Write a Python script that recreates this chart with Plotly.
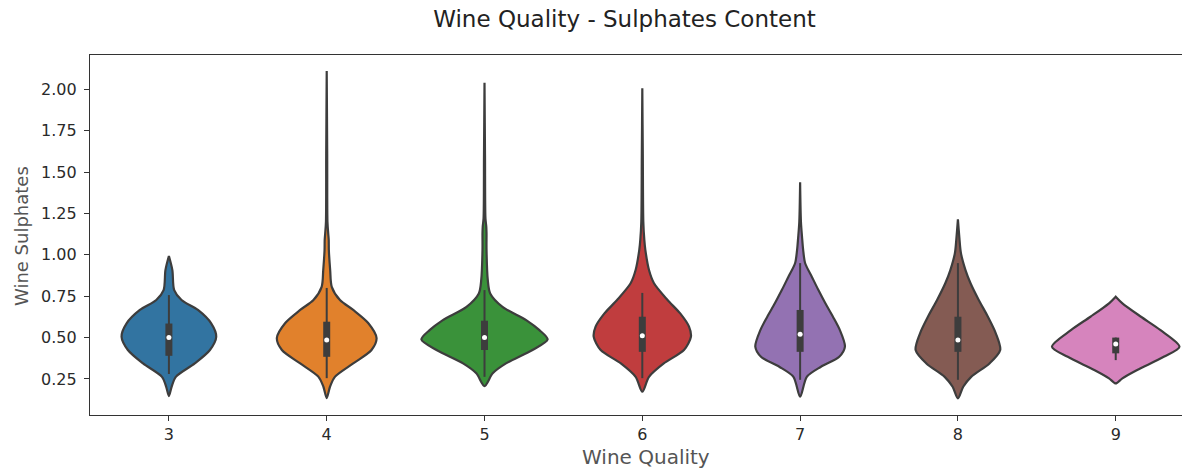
import plotly.graph_objects as go

# Wine quality categories and sulphate density profiles (level, relative density)
qualities = ["3", "4", "5", "6", "7", "8", "9"]

levels_q3 = [0.147, 0.203, 0.263, 0.344, 0.425, 0.505, 0.586, 0.667, 0.727, 0.787, 0.908, 0.993]
dens_q3 = [0.0, 0.043, 0.11, 0.41, 0.65, 0.75, 0.67, 0.46, 0.20, 0.084, 0.055, 0.0]

levels_q4 = [0.135, 0.203, 0.263, 0.344, 0.425, 0.497, 0.587, 0.667, 0.727, 0.807, 0.908, 1.03, 1.09, 1.13, 1.2, 1.6, 2.11]
dens_q4 = [0.0, 0.052, 0.13, 0.42, 0.71, 0.79, 0.66, 0.42, 0.21, 0.08, 0.055, 0.034, 0.032, 0.024, 0.012, 0.008, 0.0]

levels_q5 = [0.207, 0.284, 0.344, 0.425, 0.489, 0.545, 0.606, 0.686, 0.767, 0.848, 1.03, 1.13, 1.17, 1.22, 1.6, 2.04]
dens_q5 = [0.0, 0.13, 0.34, 0.76, 1.0, 0.87, 0.66, 0.285, 0.09, 0.052, 0.032, 0.032, 0.028, 0.015, 0.008, 0.0]

levels_q6 = [0.173, 0.263, 0.344, 0.425, 0.505, 0.566, 0.646, 0.727, 0.828, 0.908, 1.03, 1.09, 1.2, 1.6, 2.006]
dens_q6 = [0.0, 0.106, 0.34, 0.66, 0.77, 0.74, 0.60, 0.40, 0.185, 0.106, 0.048, 0.032, 0.016, 0.008, 0.0]

levels_q7 = [0.143, 0.263, 0.324, 0.384, 0.445, 0.545, 0.626, 0.707, 0.787, 0.868, 0.949, 1.03, 1.1, 1.2, 1.438]
dens_q7 = [0.0, 0.106, 0.33, 0.62, 0.71, 0.63, 0.52, 0.40, 0.29, 0.185, 0.08, 0.048, 0.032, 0.013, 0.0]

levels_q8 = [0.133, 0.203, 0.263, 0.344, 0.425, 0.526, 0.626, 0.727, 0.828, 0.908, 1.01, 1.1, 1.214]
dens_q8 = [0.0, 0.084, 0.21, 0.50, 0.67, 0.60, 0.475, 0.33, 0.20, 0.12, 0.048, 0.024, 0.0]

levels_q9 = [0.223, 0.254, 0.304, 0.384, 0.445, 0.545, 0.626, 0.707, 0.747]
dens_q9 = [0.0, 0.106, 0.34, 0.76, 1.01, 0.71, 0.40, 0.106, 0.0]

# Box summary per quality
whisker_lo = [0.28, 0.255, 0.263, 0.255, 0.245, 0.245, 0.364]
q1 = [0.39, 0.384, 0.425, 0.414, 0.414, 0.414, 0.405]
median = [0.50, 0.485, 0.50, 0.511, 0.521, 0.485, 0.461]
q3 = [0.585, 0.596, 0.602, 0.626, 0.667, 0.626, 0.50]
whisker_hi = [0.757, 0.80, 0.787, 0.77, 0.95, 0.95, 0.50]

y_ticks = [0.25, 0.50, 0.75, 1.00, 1.25, 1.50, 1.75, 2.00]

profiles = [
    (levels_q3, dens_q3), (levels_q4, dens_q4), (levels_q5, dens_q5),
    (levels_q6, dens_q6), (levels_q7, dens_q7), (levels_q8, dens_q8),
    (levels_q9, dens_q9),
]

colors = ["#3274a1", "#e1812c", "#3a923a", "#c03d3e", "#9372b2", "#845b53", "#d684bd"]
edge = "#3d3d3d"
half_width = 0.4

fig = go.Figure()

for i, (lv, dn) in enumerate(profiles):
    right_x = [i + half_width * d for d in dn]
    left_x = [i - half_width * d for d in reversed(dn)]
    xs = right_x + left_x
    ys = lv + list(reversed(lv))
    fig.add_trace(go.Scatter(
        x=xs, y=ys, mode="lines", fill="toself", fillcolor=colors[i],
        line=dict(color=edge, width=2.2, shape="spline", smoothing=0.8),
        hoverinfo="skip",
    ))
    # whisker
    fig.add_trace(go.Scatter(
        x=[i, i], y=[whisker_lo[i], whisker_hi[i]], mode="lines",
        line=dict(color=edge, width=2), hoverinfo="skip",
    ))
    # interquartile box
    fig.add_trace(go.Scatter(
        x=[i, i], y=[q1[i], q3[i]], mode="lines",
        line=dict(color=edge, width=7), hoverinfo="skip",
    ))
    # median
    fig.add_trace(go.Scatter(
        x=[i], y=[median[i]], mode="markers",
        marker=dict(color="white", size=5, line=dict(width=0)),
        hoverinfo="skip",
    ))

axis_font = dict(family="DejaVu Sans", size=16, color="#2a2a2a")

fig.update_layout(
    width=1182, height=469,
    margin=dict(l=90, r=0, t=55, b=54),
    plot_bgcolor="white", paper_bgcolor="white",
    showlegend=False,
    title=dict(
        text="Wine Quality - Sulphates Content",
        font=dict(family="DejaVu Sans", size=23, color="#222222"),
        xref="container", x=624.5 / 1182, xanchor="center",
        yref="container", y=1 - 19 / 469, yanchor="middle",
    ),
    xaxis=dict(
        range=[-0.5, 6.42],
        tickmode="array", tickvals=list(range(len(qualities))), ticktext=qualities,
        showline=True, linecolor="#333333", linewidth=1.3, mirror=True,
        ticks="outside", ticklen=5, tickwidth=1.2, tickcolor="#333333",
        showgrid=False, zeroline=False, tickfont=axis_font,
    ),
    yaxis=dict(
        range=[0.0325, 2.207],
        tickmode="array", tickvals=y_ticks,
        ticktext=[f"{v:.2f}" for v in y_ticks],
        showline=True, linecolor="#333333", linewidth=1.3,
        ticks="outside", ticklen=5, tickwidth=1.2, tickcolor="#333333",
        showgrid=False, zeroline=False, tickfont=axis_font,
        ticklabelstandoff=4,
    ),
    annotations=[
        dict(text="Wine Quality", xref="paper", yref="paper",
             x=(646 - 90) / 1092, y=-(457 - 415) / 360,
             xanchor="center", yanchor="middle", showarrow=False,
             font=dict(family="DejaVu Sans", size=20, color="#555555")),
        dict(text="Wine Sulphates", xref="paper", yref="paper",
             x=-(90 - 21) / 1092, y=(415 - 236) / 360, textangle=-90,
             xanchor="center", yanchor="middle", showarrow=False,
             font=dict(family="DejaVu Sans", size=18, color="#555555")),
    ],
)

fig.write_html("out.html")
